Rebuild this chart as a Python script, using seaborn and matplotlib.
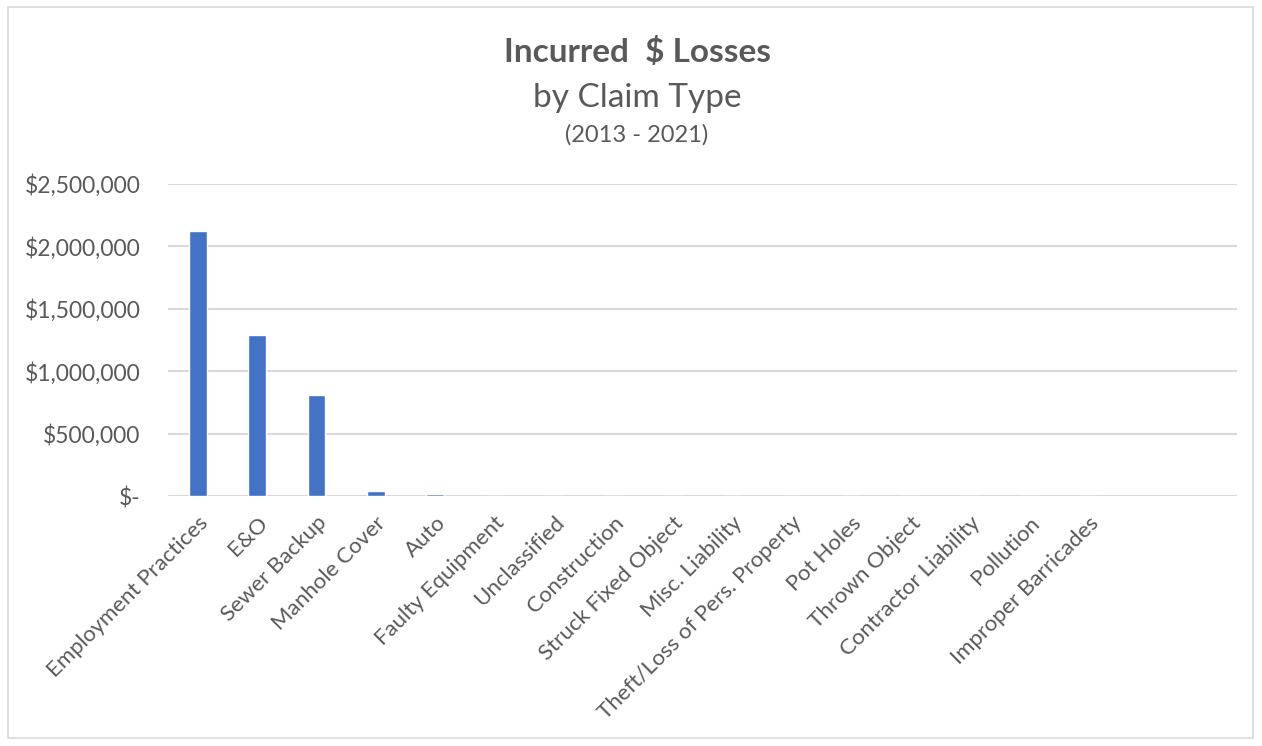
import matplotlib
matplotlib.use("Agg")
import matplotlib.pyplot as plt
import seaborn as sns
import pandas as pd
from matplotlib.patches import Rectangle
from matplotlib.ticker import FuncFormatter, MultipleLocator

categories = ["Employment Practices", "E&O", "Sewer Backup", "Manhole Cover", "Auto",
              "Faulty Equipment", "Unclassified", "Construction", "Struck Fixed Object",
              "Misc. Liability", "Theft/Loss of Pers. Property", "Pot Holes", "Thrown Object",
              "Contractor Liability", "Pollution", "Improper Barricades"]
losses = [2120000, 1290000, 810000, 42000, 15000,
          4000, 3000, 2500, 2000, 1800, 1500, 1200, 1000, 800, 600, 400]

sns.set_theme(style="white")
plt.rcParams['font.family'] = ['Lato', 'DejaVu Sans']

TXT = "#595959"
fig = plt.figure(figsize=(12.62, 7.46), dpi=100)
ax = fig.add_axes([168/1262, 1-496/746, (1237-168)/1262, (496-184)/746])

df = pd.DataFrame({"cat": categories, "val": losses})
sns.barplot(data=df, x="cat", y="val", order=categories, color="#4472C4",
            saturation=1, width=0.3, ax=ax)

ax.set_xlim(-0.5, 17.5)
ax.set_ylim(0, 2500000)
ax.yaxis.set_major_locator(MultipleLocator(500000))
ax.yaxis.set_major_formatter(FuncFormatter(lambda v, p: "$-" if v == 0 else f"${v:,.0f}"))
ax.grid(axis="y", color="#d9d9d9", linewidth=1.5)
ax.set_axisbelow(True)
for s in ax.spines.values():
    s.set_visible(False)
ax.set_xlabel("")
ax.set_ylabel("")
ax.tick_params(axis="y", labelsize=16.5, labelcolor=TXT, length=0, pad=20)
ax.tick_params(axis="x", labelsize=16, labelcolor=TXT, length=0, pad=12)
for lab in ax.get_xticklabels():
    lab.set_rotation(45)
    lab.set_ha("right")
    lab.set_rotation_mode("anchor")

fig.text(637/1262, 1-52/746, "Incurred  $ Losses", ha="center", va="center",
         fontsize=24, fontweight="bold", color=TXT)
fig.text(637/1262, 1-98/746, "by Claim Type", ha="center", va="center",
         fontsize=24, color=TXT)
fig.text(637/1262, 1-135/746, "(2013 - 2021)", ha="center", va="center",
         fontsize=17, color=TXT)

fig.patches.append(Rectangle((8/1262, 8/746), 1245/1262, 731/746, transform=fig.transFigure,
                             fill=False, edgecolor="#d9d9d9", linewidth=1.2))

fig.savefig("out.png", dpi=100, facecolor="white")
